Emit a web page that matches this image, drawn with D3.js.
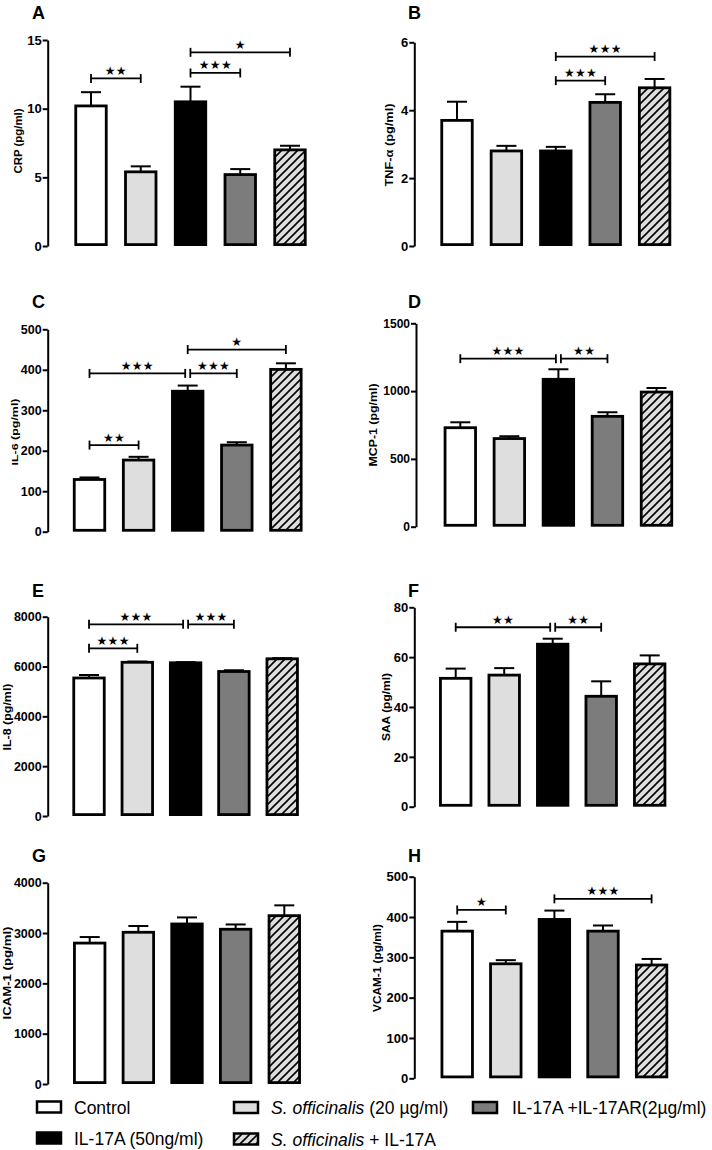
<!DOCTYPE html>
<html><head><meta charset="utf-8">
<script src="https://cdn.jsdelivr.net/npm/d3@7"></script>
<style>body{margin:0;background:#fff} svg{display:block}</style>
</head><body><svg id="chart" width="712" height="1150"></svg>
<script>
// ---------- DATA ----------
const groups = ["Control", "S. officinalis (20 µg/ml)", "IL-17A (50ng/ml)", "IL-17A +IL-17AR(2µg/ml)", "S. officinalis + IL-17A"];

const crpMean = [10.2, 5.4, 10.5, 5.2, 7.0];
const crpSem  = [1.0, 0.4, 1.1, 0.4, 0.3];
const crpTicks = [0, 5, 10, 15];
const crpSig = [[0, 1, 12.2, 2], [2, 3, 12.6, 3], [2, 4, 14.1, 1]];

const tnfMean = [3.7, 2.8, 2.8, 4.23, 4.66];
const tnfSem  = [0.55, 0.15, 0.12, 0.24, 0.26];
const tnfTicks = [0, 2, 4, 6];
const tnfSig = [[2, 3, 4.87, 3], [2, 4, 5.58, 3]];

const il6Mean = [129, 177, 347, 214, 401];
const il6Sem  = [5, 8, 14, 7, 15];
const il6Ticks = [0, 100, 200, 300, 400, 500];
const il6Sig = [[0, 1, 214, 2], [0, 2, 391, 3], [2, 3, 391, 3], [2, 4, 450, 1]];

const mcpMean = [730, 650, 1087, 814, 993];
const mcpSem  = [40, 17, 74, 30, 30];
const mcpTicks = [0, 500, 1000, 1500];
const mcpSig = [[0, 2, 1239, 3], [2, 3, 1239, 2]];

const il8Mean = [5540, 6170, 6150, 5800, 6310];
const il8Sem  = [120, 30, 25, 50, 25];
const il8Ticks = [0, 2000, 4000, 6000, 8000];
const il8Sig = [[0, 1, 6730, 3], [0, 2, 7695, 3], [2, 3, 7695, 3]];

const saaMean = [51.5, 52.8, 65.2, 44.3, 57.3];
const saaSem  = [3.9, 2.8, 2.2, 6.0, 3.4];
const saaTicks = [0, 20, 40, 60, 80];
const saaSig = [[0, 2, 72, 2], [2, 3, 72, 2]];

const icamMean = [2800, 3015, 3180, 3075, 3345];
const icamSem  = [120, 125, 130, 95, 205];
const icamTicks = [0, 1000, 2000, 3000, 4000];
const icamSig = [];

const vcamMean = [365, 284, 394, 365, 281];
const vcamSem  = [23, 9, 22, 14, 15];
const vcamTicks = [0, 100, 200, 300, 400, 500];
const vcamSig = [[0, 1, 417.5, 1], [2, 4, 445, 3]];

const panels = [
  {letter: "A", label: "CRP (pg/ml)",    mean: crpMean,  sem: crpSem,  ticks: crpTicks,  sig: crpSig},
  {letter: "B", label: "TNF-α (pg/ml)",  mean: tnfMean,  sem: tnfSem,  ticks: tnfTicks,  sig: tnfSig},
  {letter: "C", label: "IL-6 (pg/ml)",   mean: il6Mean,  sem: il6Sem,  ticks: il6Ticks,  sig: il6Sig},
  {letter: "D", label: "MCP-1 (pg/ml)",  mean: mcpMean,  sem: mcpSem,  ticks: mcpTicks,  sig: mcpSig},
  {letter: "E", label: "IL-8 (pg/ml)",   mean: il8Mean,  sem: il8Sem,  ticks: il8Ticks,  sig: il8Sig},
  {letter: "F", label: "SAA (pg/ml)",    mean: saaMean,  sem: saaSem,  ticks: saaTicks,  sig: saaSig},
  {letter: "G", label: "ICAM-1 (pg/ml)", mean: icamMean, sem: icamSem, ticks: icamTicks, sig: icamSig},
  {letter: "H", label: "VCAM-1 (pg/ml)", mean: vcamMean, sem: vcamSem, ticks: vcamTicks, sig: vcamSig}
];

// ---------- LAYOUT / STYLE ----------
const layout = [
  {lx: 32,  ly: 19,  ax: 47.7,  yTop: 40,    y0: 246,    c0: 91,    step: 49.75, labX: 18,  labY: 141, labLen: 65, labSize: 11.5, tickSize: 13},
  {lx: 408, ly: 19,  ax: 414.3, yTop: 42.3,  y0: 246,    c0: 457,   step: 49.4,  labX: 389, labY: 145, labLen: 83, labSize: 11,   tickSize: 13},
  {lx: 32,  ly: 308, ax: 47.7,  yTop: 329.3, y0: 531.7,  c0: 89.5,  step: 49.1,  labX: 14.5,labY: 432, labLen: 67, labSize: 9.5,  tickSize: 12.5},
  {lx: 408, ly: 308, ax: 416,   yTop: 323.3, y0: 526.7,  c0: 460.3, step: 49.05, labX: 373, labY: 425, labLen: 83, labSize: 10.5, tickSize: 12},
  {lx: 32,  ly: 597, ax: 47.7,  yTop: 616.7, y0: 816,    c0: 89,    step: 48.3,  labX: 7,   labY: 717, labLen: 67, labSize: 10,   tickSize: 12.5},
  {lx: 408, ly: 597, ax: 414.3, yTop: 607.3, y0: 806.7,  c0: 455.7, step: 48.5,  labX: 386, labY: 707, labLen: 68, labSize: 10,   tickSize: 13},
  {lx: 32,  ly: 862, ax: 47.7,  yTop: 882.7, y0: 1084,   c0: 89.7,  step: 48.65, labX: 7,   labY: 973, labLen: 93, labSize: 10,   tickSize: 12.5},
  {lx: 408, ly: 862, ax: 414.3, yTop: 876.7, y0: 1078.3, c0: 457.2, step: 48.6,  labX: 377, labY: 968, labLen: 88, labSize: 11,   tickSize: 13}
];
const barW = 30.5;
const fills = ["#ffffff", "#dedede", "#000000", "#7c7c7c", "url(#hatch)"];
const FONT = "'Liberation Sans', Arial, Helvetica, sans-serif";

const svg = d3.select("#chart");
svg.append("rect").attr("width", 712).attr("height", 1150).attr("fill", "#fff");

const defs = svg.append("defs");
const pat = defs.append("pattern").attr("id", "hatch").attr("patternUnits", "userSpaceOnUse")
  .attr("width", 8).attr("height", 8);
pat.append("rect").attr("width", 8).attr("height", 8).attr("fill", "#dedede");
pat.append("path").attr("d", "M-2,2 L2,-2 M0,8 L8,0 M6,10 L10,6")
  .attr("stroke", "#000").attr("stroke-width", 1.6);

panels.forEach((p, i) => {
  const L = layout[i];
  const g = svg.append("g");
  const max = p.ticks[p.ticks.length - 1];
  const y = d3.scaleLinear().domain([0, max]).range([L.y0, L.yTop]);
  const pad = 1 - barW / L.step;
  const x = d3.scaleBand().domain(d3.range(groups.length))
    .range([L.c0 - L.step / 2, L.c0 - L.step / 2 + groups.length * L.step])
    .paddingInner(pad).paddingOuter(pad / 2);
  const cx = k => x(k) + x.bandwidth() / 2;

  // panel letter
  g.append("text").attr("x", L.lx).attr("y", L.ly).text(p.letter)
    .attr("font-family", FONT).attr("font-weight", "bold").attr("font-size", 18);

  // y axis
  const axis = g.append("g").attr("transform", `translate(${L.ax},0)`)
    .call(d3.axisLeft(y).tickValues(p.ticks).tickSize(5).tickSizeOuter(0).tickPadding(1).tickFormat(d3.format("d")));
  axis.select(".domain").attr("stroke", "#000").attr("stroke-width", 2);
  axis.selectAll(".tick line").attr("stroke", "#000").attr("stroke-width", 2);
  axis.selectAll(".tick text").attr("font-family", FONT).attr("font-weight", "bold")
    .attr("font-size", L.tickSize).attr("fill", "#000");

  // y label
  g.append("text").attr("transform", `translate(${L.labX},${L.labY}) rotate(-90)`)
    .attr("text-anchor", "middle").attr("dominant-baseline", "central")
    .attr("font-family", FONT).attr("font-weight", "bold").attr("font-size", L.labSize)
    .attr("textLength", L.labLen).attr("lengthAdjust", "spacingAndGlyphs")
    .text(p.label);

  // error bars
  const eb = g.append("g").attr("stroke", "#000").attr("stroke-width", 2);
  p.mean.forEach((m, k) => {
    const top = y(m + p.sem[k]);
    eb.append("line").attr("x1", cx(k)).attr("x2", cx(k)).attr("y1", y(m)).attr("y2", top);
    eb.append("line").attr("x1", cx(k) - 10).attr("x2", cx(k) + 10).attr("y1", top).attr("y2", top);
  });

  // bars
  g.selectAll("rect.bar").data(p.mean).join("rect").attr("class", "bar")
    .attr("x", (d, k) => x(k)).attr("width", x.bandwidth())
    .attr("y", d => y(d)).attr("height", d => L.y0 - y(d) - 1.4)
    .attr("fill", (d, k) => fills[k]).attr("stroke", "#000").attr("stroke-width", 2.8);

  // significance brackets
  p.sig.forEach(s => {
    const [a, b, v, n] = s;
    let x1 = cx(a), x2 = cx(b);
    if (p.sig.some(t => t !== s && t[2] === v && t[1] === a)) x1 += 2.5;
    if (p.sig.some(t => t !== s && t[2] === v && t[0] === b)) x2 -= 2.5;
    const yy = y(v);
    const bg = g.append("g").attr("stroke", "#000").attr("stroke-width", 1.8);
    bg.append("line").attr("x1", x1).attr("x2", x2).attr("y1", yy).attr("y2", yy);
    bg.append("line").attr("x1", x1).attr("x2", x1).attr("y1", yy - 4.5).attr("y2", yy + 4.5);
    bg.append("line").attr("x1", x2).attr("x2", x2).attr("y1", yy - 4.5).attr("y2", yy + 4.5);
    g.append("text").attr("x", (x1 + x2) / 2).attr("y", yy - 3.5)
      .attr("text-anchor", "middle").attr("font-family", "'DejaVu Sans', sans-serif")
      .attr("font-size", 12).attr("letter-spacing", 0.3)
      .text("★".repeat(n));
  });
});

// ---------- LEGEND ----------
const legendPos = [
  {sx: 37, sy: 1101.5, tx: 74,  ty: 1113.5},
  {sx: 234, sy: 1102, tx: 271, ty: 1114},
  {sx: 37, sy: 1132.5, tx: 74,  ty: 1145},
  {sx: 473, sy: 1102, tx: 512, ty: 1114},
  {sx: 234, sy: 1133.5, tx: 271, ty: 1146}
];
const lg = svg.append("g");
groups.forEach((name, k) => {
  const P = legendPos[k];
  lg.append("rect").attr("x", P.sx).attr("y", P.sy).attr("width", 24).attr("height", 11)
    .attr("fill", fills[k]).attr("stroke", "#000").attr("stroke-width", 2.5);
  const t = lg.append("text").attr("x", P.tx).attr("y", P.ty)
    .attr("font-family", FONT).attr("font-size", 17.5);
  if (name.startsWith("S. officinalis")) {
    t.append("tspan").attr("font-style", "italic").text("S. officinalis");
    t.append("tspan").text(name.slice("S. officinalis".length));
  } else {
    t.text(name);
  }
});
</script></body></html>
